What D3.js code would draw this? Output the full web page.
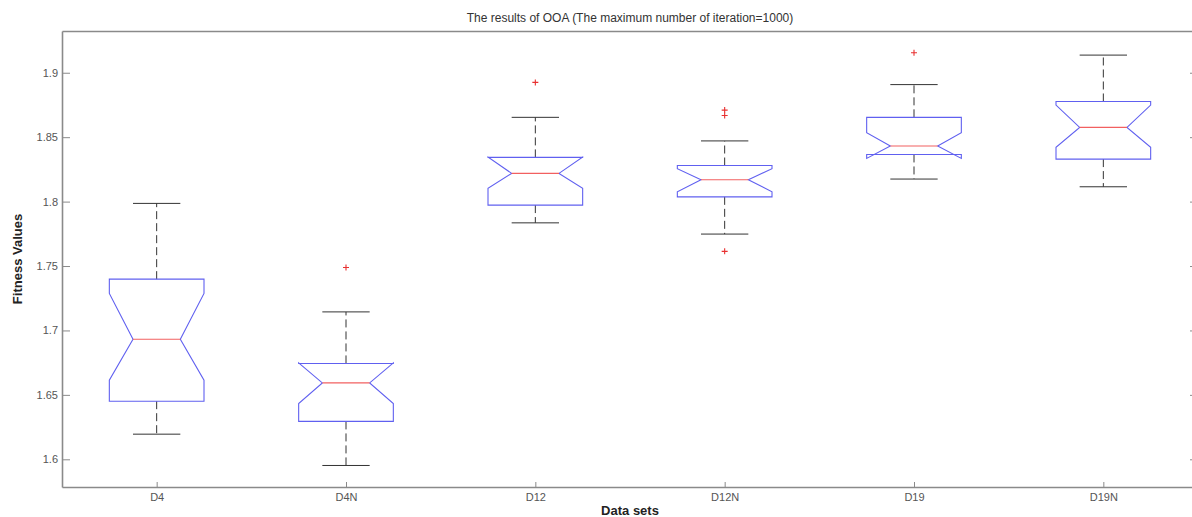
<!DOCTYPE html>
<html>
<head>
<meta charset="utf-8">
<script src="https://cdn.jsdelivr.net/npm/d3@7/dist/d3.min.js"></script>
<style>
  html, body { margin: 0; padding: 0; background: #fff; }
  svg { display: block; font-family: "Liberation Sans", Arial, sans-serif; }
</style>
</head>
<body>
<svg id="chart" width="1192" height="517"></svg>
<script>
// ---- data ----
const categories  = ["D4", "D4N", "D12", "D12N", "D19", "D19N"];
const whiskerLow  = [1.6195, 1.5952, 1.7835, 1.7748, 1.8175, 1.8115];
const q1          = [1.6451, 1.6294, 1.7973, 1.8037, 1.8366, 1.8330];
const medians     = [1.6932, 1.6593, 1.8219, 1.8170, 1.8431, 1.8576];
const q3          = [1.7398, 1.6744, 1.8343, 1.8280, 1.8654, 1.8777];
const whiskerHigh = [1.7986, 1.7144, 1.8654, 1.8471, 1.8908, 1.9137];
const notchLow    = [1.6614, 1.6433, 1.8103, 1.8076, 1.8335, 1.8421];
const notchHigh   = [1.7287, 1.6748, 1.8346, 1.8255, 1.8534, 1.8749];
const outliers    = [[], [1.7488], [1.8925], [1.8710, 1.8668, 1.7614], [1.9155], []];
const yTicks      = [1.6, 1.65, 1.7, 1.75, 1.8, 1.85, 1.9];
const yTickLabels = ["1.6", "1.65", "1.7", "1.75", "1.8", "1.85", "1.9"];
const titleText   = "The results of OOA (The maximum number of iteration=1000)";
const xLabel      = "Data sets";
const yLabel      = "Fitness Values";

(function () {
// ---- layout ----
const svg = d3.select("#chart");
const pL = 62, pR = 1198, pT = 31, pB = 487;
const x = d3.scaleLinear().domain([0.5, 6.5]).range([pL, pR]);
const y = d3.scaleLinear().domain([1.5785, 1.9324]).range([pB, pT]);

const axisColor = "#8a8a8a";
const boxColor = "#6060f0";
const medColor = "#f26060";
const whiskColor = "#333";

// axes
const gL = svg.append("g").attr("transform", `translate(${pL},0)`)
  .call(d3.axisLeft(y).tickValues(yTicks).tickFormat((d, i) => yTickLabels[i])
        .tickSizeInner(-8).tickSizeOuter(0).tickPadding(4));
const gR = svg.append("g").attr("transform", `translate(${pR},0)`)
  .call(d3.axisRight(y).tickValues(yTicks).tickFormat("").tickSizeInner(-8).tickSizeOuter(0));
const xTicks = categories.map((c, i) => i + 1);
const gB = svg.append("g").attr("transform", `translate(0,${pB})`)
  .call(d3.axisBottom(x).tickValues(xTicks).tickFormat((d) => categories[d - 1])
        .tickSizeInner(-5).tickSizeOuter(0).tickPadding(6));
const gT = svg.append("g").attr("transform", `translate(0,${pT})`)
  .call(d3.axisTop(x).tickValues([]).tickSizeOuter(0));

[gL, gR, gB, gT].forEach(g => {
  g.select(".domain").attr("stroke", axisColor).attr("stroke-width", 1.6);
  g.selectAll(".tick line").attr("stroke", axisColor).attr("stroke-width", 1);
  g.selectAll(".tick text").attr("fill", "#555").attr("font-size", 11);
});

// title and labels
svg.append("text").attr("x", (pL + pR) / 2).attr("y", 22)
  .attr("text-anchor", "middle").attr("font-size", 12).attr("fill", "#333").text(titleText);
svg.append("text").attr("x", 630).attr("y", 515)
  .attr("text-anchor", "middle").attr("font-size", 13).attr("font-weight", "bold").attr("fill", "#222").text(xLabel);
svg.append("text").attr("transform", `translate(22,${(pT + pB) / 2}) rotate(-90)`)
  .attr("text-anchor", "middle").attr("font-size", 13).attr("font-weight", "bold").attr("fill", "#222").text(yLabel);

// boxes
const bw = (x(1.25) - x(1)); // half box width (box width 0.5)
const data = categories.map((c, i) => ({
  c, xc: x(i + 1), lo: whiskerLow[i], q1: q1[i], med: medians[i], q3: q3[i],
  hi: whiskerHigh[i], nlo: notchLow[i], nhi: notchHigh[i], out: outliers[i]
}));

const g = svg.append("g");
const boxes = g.selectAll("g.box").data(data).enter().append("g").attr("class", "box");

// whiskers (dashed)
boxes.append("line").attr("x1", d => d.xc).attr("x2", d => d.xc)
  .attr("y1", d => y(d.q3)).attr("y2", d => y(d.hi))
  .attr("stroke", whiskColor).attr("stroke-dasharray", "8,4").attr("stroke-width", 1);
boxes.append("line").attr("x1", d => d.xc).attr("x2", d => d.xc)
  .attr("y1", d => y(d.q1)).attr("y2", d => y(d.lo))
  .attr("stroke", whiskColor).attr("stroke-dasharray", "8,4").attr("stroke-width", 1);
// caps
boxes.append("line").attr("x1", d => d.xc - bw / 2).attr("x2", d => d.xc + bw / 2)
  .attr("y1", d => y(d.hi)).attr("y2", d => y(d.hi)).attr("stroke", whiskColor).attr("stroke-width", 1);
boxes.append("line").attr("x1", d => d.xc - bw / 2).attr("x2", d => d.xc + bw / 2)
  .attr("y1", d => y(d.lo)).attr("y2", d => y(d.lo)).attr("stroke", whiskColor).attr("stroke-width", 1);

// notched box polygon
boxes.append("path")
  .attr("d", d => {
    const pts = [
      [d.xc - bw, y(d.q1)], [d.xc - bw, y(d.nlo)], [d.xc - bw / 2, y(d.med)],
      [d.xc - bw, y(d.nhi)], [d.xc - bw, y(d.q3)], [d.xc + bw, y(d.q3)],
      [d.xc + bw, y(d.nhi)], [d.xc + bw / 2, y(d.med)], [d.xc + bw, y(d.nlo)],
      [d.xc + bw, y(d.q1)]
    ];
    return d3.line()(pts) + "Z";
  })
  .attr("fill", "none").attr("stroke", boxColor).attr("stroke-width", 1.1);

// median
boxes.append("line").attr("x1", d => d.xc - bw / 2).attr("x2", d => d.xc + bw / 2)
  .attr("y1", d => y(d.med)).attr("y2", d => y(d.med)).attr("stroke", medColor).attr("stroke-width", 1.1);

// outliers
boxes.selectAll("path.out").data(d => d.out.map(v => ({ xc: d.xc, v })))
  .enter().append("path").attr("class", "out")
  .attr("d", o => {
    const cx = o.xc, cy = y(o.v), s = 3;
    return `M${cx - s},${cy}H${cx + s}M${cx},${cy - s}V${cy + s}`;
  })
  .attr("stroke", "#e83030").attr("stroke-width", 1.1).attr("fill", "none");
})();
</script>
</body>
</html>
